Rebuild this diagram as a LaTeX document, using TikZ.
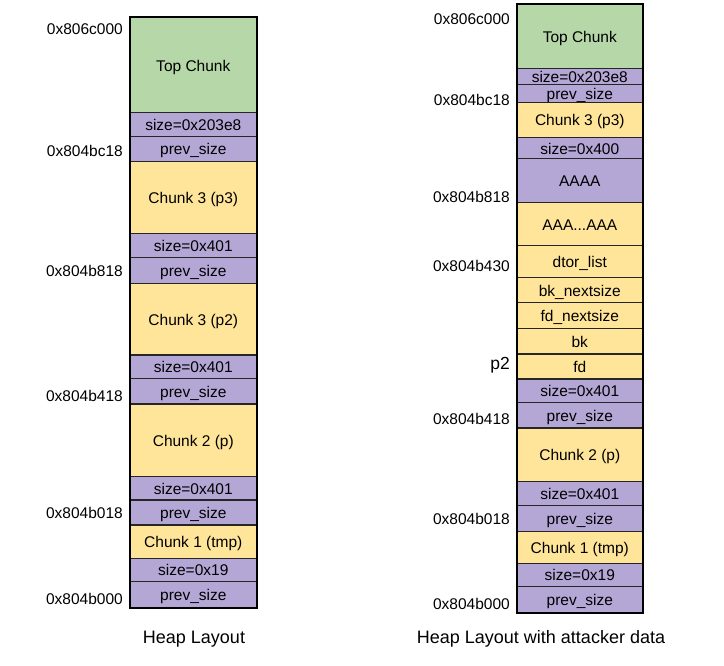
\documentclass[tikz,border=0pt]{standalone}
\usepackage{fontspec}
\setmainfont{Liberation Sans}
\usetikzlibrary{positioning,calc}
\definecolor{topgreen}{HTML}{B6D7A8}
\definecolor{hdrpurple}{HTML}{B4A7D6}
\definecolor{datayellow}{HTML}{FFE599}
\tikzset{
  cell/.style={draw=black!85,line width=1.2pt,anchor=north,inner sep=0pt,
    minimum width=126pt,text height=13pt,text depth=1pt,
    font=\fontsize{15.5}{16}\selectfont},
  addr/.style={anchor=east,inner sep=0pt,font=\fontsize{15.5}{16}\selectfont},
  caption/.style={inner sep=0pt,font=\fontsize{18}{20}\selectfont}
}
\begin{document}
\begin{tikzpicture}[x=1pt,y=-1pt]
\useasboundingbox[fill=white] (0,0) rectangle (724,666);
%left column: plain heap
\foreach \t/\b/\c/\s [count=\i] in {17.3/112.3/topgreen/Top Chunk,
  112.3/135.7/hdrpurple/size=0x203e8,135.7/160.7/hdrpurple/prev\_size,
  160.7/233.3/datayellow/Chunk 3 (p3),233.3/256.7/hdrpurple/size=0x401,
  256.7/282.7/hdrpurple/prev\_size,282.7/354.3/datayellow/Chunk 3 (p2),
  354.3/377.7/hdrpurple/size=0x401,377.7/403.3/hdrpurple/prev\_size,
  403.3/475.7/datayellow/Chunk 2 (p),475.7/499.3/hdrpurple/size=0x401,
  499.3/524.3/hdrpurple/prev\_size,524.3/557.7/datayellow/Chunk 1 (tmp),
  557.7/580.7/hdrpurple/size=0x19,580.7/606.7/hdrpurple/prev\_size}
  \node[cell,fill=\c,minimum height={(\b-\t)*1pt}] (L\i) at (193.3,\t) {\s};
\draw[line width=1.8pt] (L1.north west) rectangle (L15.south east);
%right column: with attacker data
\foreach \t/\b/\c/\s [count=\i] in {4/68.3/topgreen/Top Chunk,
  68.3/84/hdrpurple/size=0x203e8,84/101.7/hdrpurple/prev\_size,
  101.7/136.7/datayellow/Chunk 3 (p3),136.7/158.3/hdrpurple/size=0x400,
  158.3/202.3/hdrpurple/AAAA,202.3/245/datayellow/AAA.{}..AAA,
  245/277.3/datayellow/dtor\_list,277.3/302.3/datayellow/bk\_nextsize,
  302.3/327.7/datayellow/fd\_nextsize,327.7/353.3/datayellow/bk,
  353.3/378.3/datayellow/fd,378.3/401.7/hdrpurple/size=0x401,
  401.7/427.3/hdrpurple/prev\_size,427.3/480.7/datayellow/Chunk 2 (p),
  480.7/505/hdrpurple/size=0x401,505/530.7/hdrpurple/prev\_size,
  530.7/562.7/datayellow/Chunk 1 (tmp),562.7/586/hdrpurple/size=0x19,
  586/611.7/hdrpurple/prev\_size}
  \node[cell,fill=\c,minimum width=125pt,minimum height={(\b-\t)*1pt}] (R\i) at (579.8,\t) {\s};
\draw[line width=1.8pt] (R1.north west) rectangle (R20.south east);
%addresses
\foreach \y/\s [count=\i] in {29/0x806c000,150.7/0x804bc18,271/0x804b818,
  396/0x804b418,513/0x804b018,599/0x804b000}
  \node[addr] (la\i) at (123,\y) {\s};
\foreach \y/\s [count=\i] in {19.3/0x806c000,100/0x804bc18,196.7/0x804b818,
  266/0x804b430,419.3/0x804b418,519/0x804b018,604.3/0x804b000}
  \node[addr] (ra\i) at (510,\y) {\s};
\node[addr,font=\fontsize{17.5}{18}\selectfont] (p2) at (510,365) {p2};
%captions
\node[caption] (lcap) at (194,639) {Heap Layout};
\node[caption] (rcap) at (541,639) {Heap Layout with attacker data};
\end{tikzpicture}
\end{document}
